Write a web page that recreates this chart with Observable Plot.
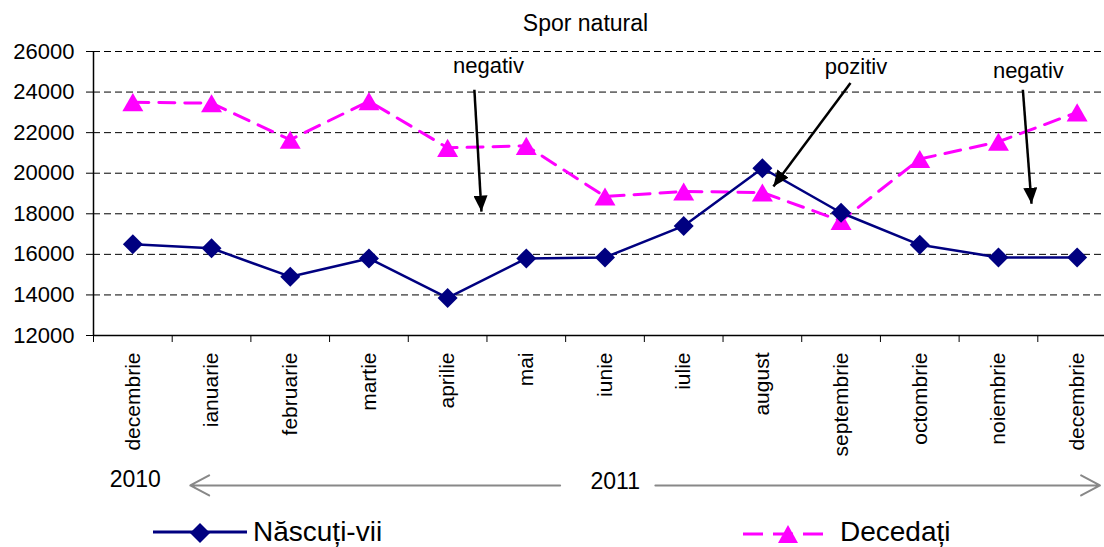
<!DOCTYPE html>
<html>
<head>
<meta charset="utf-8">
<script src="https://cdn.jsdelivr.net/npm/d3@7"></script>
<script src="https://cdn.jsdelivr.net/npm/@observablehq/plot@0.6"></script>
<style>
  html, body { margin: 0; padding: 0; background: #fff; }
  body { font-family: "Liberation Sans", Arial, sans-serif; }
  #wrap { position: relative; width: 1104px; height: 547px; overflow: hidden; background: #fff; }
  #title { position: absolute; top: 12px; left: 0; width: 1171px; text-align: center; font-size: 23px; line-height: 23px; color: #000; }
  #chart { position: absolute; top: 40px; left: 0; }
  #legend { position: absolute; top: 503px; left: 0; overflow: visible; }
</style>
</head>
<body>
<div id="wrap">
  <div id="title">Spor natural</div>
  <div id="chart"></div>
  <svg id="legend" width="1104" height="44"></svg>
</div>
<script>
// ---- data ----
const months = ["decembrie", "ianuarie", "februarie", "martie", "aprilie", "mai", "iunie",
                "iulie", "august", "septembrie", "octombrie", "noiembrie", "decembrie"];
const nascuti = [16500, 16300, 14900, 15800, 13850, 15800, 15850, 17400, 20250, 18050, 16470, 15850, 15850];
const decedati = [23500, 23450, 21650, 23550, 21250, 21350, 18850, 19100, 19050, 17650, 20700, 21550, 23000];
const yTicks = [12000, 14000, 16000, 18000, 20000, 22000, 24000, 26000];
const seriesNames = ["Născuți-vii", "Decedați"];
const seriesColors = ["#000080", "#ff00ff"];

// annotations (x in month-index units, y in chart values)
const notes = [
  {label: "negativ", x: 4.52, y: 25300},
  {label: "pozitiv", x: 9.19, y: 25250},
  {label: "negativ", x: 11.38, y: 25050}
];
const noteArrows = [
  {x1: 4.34, y1: 24115, x2: 4.43, y2: 18110},
  {x1: 9.12, y1: 24445, x2: 8.14, y2: 19350},
  {x1: 11.31, y1: 24115, x2: 11.42, y2: 18495}
];
const years = [
  {label: "2010", x: 0.03, y: 4885},
  {label: "2011", x: 6.13, y: 4790}
];
const yearArrows = [
  {x1: 5.43, y1: 4610, x2: 0.73, y2: 4610},
  {x1: 6.64, y1: 4610, x2: 12.29, y2: 4610}
];

// ---- build ----
const idx = months.map((_, i) => i);
const bounds = d3.range(-0.5, 13, 1);
const font = "Liberation Sans, Arial, sans-serif";

function filledArrow(color) {
  const m = d3.create("svg:marker")
    .attr("viewBox", "-16 -7 16 14")
    .attr("markerWidth", 16)
    .attr("markerHeight", 14)
    .attr("markerUnits", "userSpaceOnUse")
    .attr("orient", "auto")
    .attr("refX", 0).attr("refY", 0)
    .attr("fill", color)
    .attr("stroke", "none");
  m.append("path").attr("d", "M-16,-7L0,0L-16,7Z");
  return m.node();
}

const chart = Plot.plot({
  width: 1104,
  height: 465,
  marginTop: 11,
  marginBottom: 170,
  marginLeft: 93,
  marginRight: 0,
  style: {fontFamily: font, fontSize: "21px", color: "#000", background: "transparent", overflow: "visible"},
  x: {type: "linear", domain: [-0.5, 12.5], range: [93, 1116]},
  y: {domain: [12000, 26000]},
  marks: [
    Plot.gridY(yTicks.slice(1), {stroke: "#000", strokeOpacity: 1, strokeWidth: 1, strokeDasharray: "7,4"}),
    Plot.axisY({ticks: yTicks, tickSize: 7, tickPadding: 12, fontSize: 22, tickFormat: d3.format("d"), label: null}),
    Plot.axisX({ticks: bounds, tickSize: 7, tickFormat: () => "", label: null}),
    Plot.axisX({ticks: idx, tickSize: 0, tickPadding: 17, tickRotate: -90, fontSize: 21, tickFormat: i => months[i], label: null}),
    Plot.ruleX([-0.5], {stroke: "#000", strokeWidth: 1.5}),
    Plot.ruleY([12000], {stroke: "#000", strokeWidth: 1.5}),
    Plot.line(idx, {x: i => i, y: i => decedati[i], stroke: seriesColors[1], strokeWidth: 3, strokeDasharray: "16,10"}),
    Plot.line(idx, {x: i => i, y: i => nascuti[i], stroke: seriesColors[0], strokeWidth: 2.5}),
    Plot.dot(idx, {x: i => i, y: i => decedati[i], symbol: "triangle2", r: 10, fill: seriesColors[1], stroke: "none", dy: 3}),
    Plot.dot(idx, {x: i => i, y: i => nascuti[i], symbol: "diamond2", r: 9, fill: seriesColors[0], stroke: "none"}),
    Plot.link(noteArrows, {x1: "x1", y1: "y1", x2: "x2", y2: "y2", stroke: "#000", strokeWidth: 2.5, markerEnd: filledArrow}),
    Plot.text(notes, {x: "x", y: "y", text: "label", fontSize: 22, fill: "#000"}),
    Plot.arrow(yearArrows, {x1: "x1", y1: "y1", x2: "x2", y2: "y2", stroke: "#888", strokeWidth: 2, headLength: 16, headAngle: 56}),
    Plot.text(years, {x: "x", y: "y", text: "label", fontSize: 23, fill: "#000"})
  ]
});
document.getElementById("chart").appendChild(chart);

// ---- legend ----
const leg = d3.select("#legend");
// Născuți-vii
leg.append("line").attr("x1", 153).attr("x2", 247).attr("y1", 29).attr("y2", 29)
  .attr("stroke", seriesColors[0]).attr("stroke-width", 3);
leg.append("path").attr("d", "M200,20L210,30L200,40L190,30Z").attr("fill", seriesColors[0]);
leg.append("text").attr("x", 253).attr("y", 38).attr("font-family", font).attr("font-size", 28)
  .attr("fill", "#000").text(seriesNames[0]);
// Decedați
leg.append("line").attr("x1", 743).attr("x2", 823).attr("y1", 31).attr("y2", 31)
  .attr("stroke", seriesColors[1]).attr("stroke-width", 3).attr("stroke-dasharray", "20,10");
leg.append("path").attr("d", "M788,22L798,40L778,40Z").attr("fill", seriesColors[1]);
leg.append("text").attr("x", 840).attr("y", 38).attr("font-family", font).attr("font-size", 28)
  .attr("fill", "#000").text(seriesNames[1]);
</script>
</body>
</html>
